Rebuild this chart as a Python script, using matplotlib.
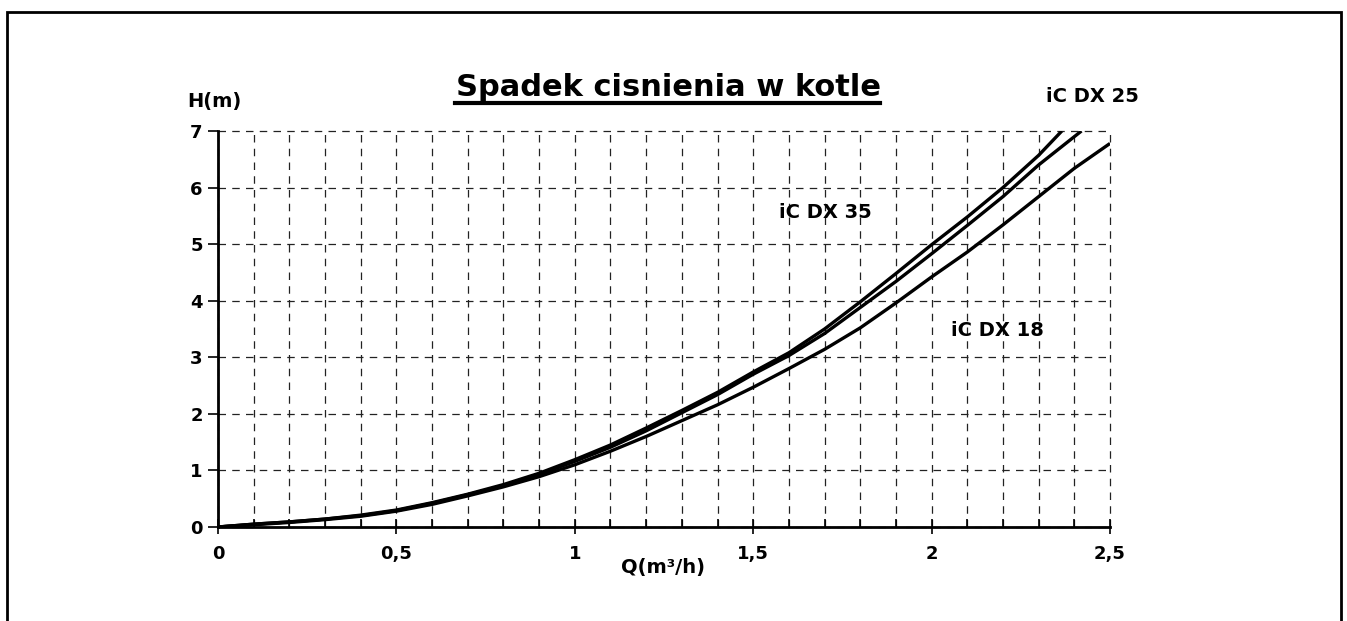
import matplotlib
matplotlib.use("Agg")
import matplotlib.pyplot as plt
from matplotlib.lines import Line2D
from matplotlib.patches import Rectangle
from matplotlib.ticker import MultipleLocator, FuncFormatter

# flow Q (m3/h) and head loss H (m)
q_25 = [0.0, 0.1, 0.2, 0.3, 0.4, 0.5, 0.6, 0.7, 0.8, 0.9, 1.0, 1.1, 1.2,
        1.3, 1.4, 1.5, 1.6, 1.7, 1.8, 1.9, 2.0, 2.1, 2.2, 2.3, 2.365]
h_25 = [0.0, 0.05, 0.09, 0.14, 0.21, 0.30, 0.43, 0.58, 0.75, 0.95, 1.19, 1.45, 1.75,
        2.06, 2.38, 2.74, 3.08, 3.50, 3.98, 4.48, 4.99, 5.48, 6.00, 6.57, 7.0]

q_35 = [0.0, 0.1, 0.2, 0.3, 0.4, 0.5, 0.6, 0.7, 0.8, 0.9, 1.0, 1.1, 1.2,
        1.3, 1.4, 1.5, 1.6, 1.7, 1.8, 1.9, 2.0, 2.1, 2.2, 2.3, 2.42]
h_35 = [0.0, 0.05, 0.09, 0.14, 0.20, 0.29, 0.42, 0.57, 0.73, 0.93, 1.16, 1.41, 1.70,
        2.02, 2.34, 2.70, 3.03, 3.42, 3.88, 4.34, 4.83, 5.33, 5.84, 6.40, 7.0]

q_18 = [0.0, 0.1, 0.2, 0.3, 0.4, 0.5, 0.6, 0.7, 0.8, 0.9, 1.0, 1.1, 1.2,
        1.3, 1.4, 1.5, 1.6, 1.7, 1.8, 1.9, 2.0, 2.1, 2.2, 2.3, 2.4, 2.5]
h_18 = [0.0, 0.04, 0.08, 0.13, 0.19, 0.28, 0.40, 0.55, 0.71, 0.89, 1.10, 1.34, 1.60,
        1.88, 2.16, 2.47, 2.80, 3.14, 3.52, 3.96, 4.42, 4.86, 5.34, 5.84, 6.34, 6.78]

plt.rcParams["font.family"] = ["DejaVu Sans"]
plt.rcParams["font.weight"] = "bold"

fig = plt.figure(figsize=(13.47, 6.21), dpi=100)
ax = fig.add_axes([218 / 1347, 1 - 527 / 621, 892 / 1347, 396 / 621])

for q, h in [(q_25, h_25), (q_35, h_35), (q_18, h_18)]:
    ax.plot(q, h, color="black", linewidth=2.4, solid_capstyle="butt")

ax.set_xlim(0, 2.5)
ax.set_ylim(0, 7)

# x: gridlines every 0.1, labels only on the halves
ax.xaxis.set_major_locator(MultipleLocator(0.1))
ax.xaxis.set_minor_locator(MultipleLocator(0.5))
ax.xaxis.remove_overlapping_locs = False
ax.xaxis.set_major_formatter(FuncFormatter(
    lambda v, p: ("%g" % round(v, 2)).replace(".", ",") if abs(v * 2 - round(v * 2)) < 1e-6 else ""))
ax.tick_params(axis="x", which="major", direction="in", length=6, width=1.2,
               labelsize=13, pad=13)
ax.tick_params(axis="x", which="minor", direction="out", length=5, width=1.2)

ax.yaxis.set_major_locator(MultipleLocator(1))
ax.tick_params(axis="y", direction="out", length=7, width=1.2, labelsize=13, pad=4)

for lab in ax.get_xticklabels() + ax.get_yticklabels():
    lab.set_fontweight("bold")

ax.grid(True, which="major", color="#222222", linestyle=(0, (6, 5)), linewidth=0.9)
for gl in ax.get_xgridlines() + ax.get_ygridlines():
    gl.set_clip_on(False)

for side in ["top", "right"]:
    ax.spines[side].set_visible(False)
for side in ["left", "bottom"]:
    ax.spines[side].set_linewidth(2)

# labels
fig.text(214 / 1347, 1 - 102 / 621, "H(m)", ha="center", va="center",
         fontsize=14, fontweight="bold")
fig.text(663 / 1347, 1 - 567 / 621, "Q(m³/h)", ha="center", va="center",
         fontsize=14, fontweight="bold")
fig.text(1092 / 1347, 1 - 97 / 621, "iC DX 25", ha="center", va="center",
         fontsize=14, fontweight="bold")
fig.text(825 / 1347, 1 - 213 / 621, "iC DX 35", ha="center", va="center",
         fontsize=14, fontweight="bold")
fig.text(997 / 1347, 1 - 331 / 621, "iC DX 18", ha="center", va="center",
         fontsize=14, fontweight="bold")

title = fig.text(668 / 1347, 1 - 87 / 621, "Spadek cisnienia w kotle",
                 ha="center", va="center", fontsize=22, fontweight="bold")

# underline the title
fig.canvas.draw()
bb = title.get_window_extent().transformed(fig.transFigure.inverted())
fig.add_artist(Line2D([bb.x0, bb.x1], [1 - 103 / 621] * 2, color="black",
                      linewidth=3, transform=fig.transFigure))

# outer frame (bottom edge lies outside the image)
fig.add_artist(Rectangle((7 / 1347, -0.2), 1334 / 1347, 1.2 - 12 / 621,
                         fill=False, edgecolor="black", linewidth=2,
                         transform=fig.transFigure))

fig.savefig("out.png", dpi=100)
plt.close(fig)
